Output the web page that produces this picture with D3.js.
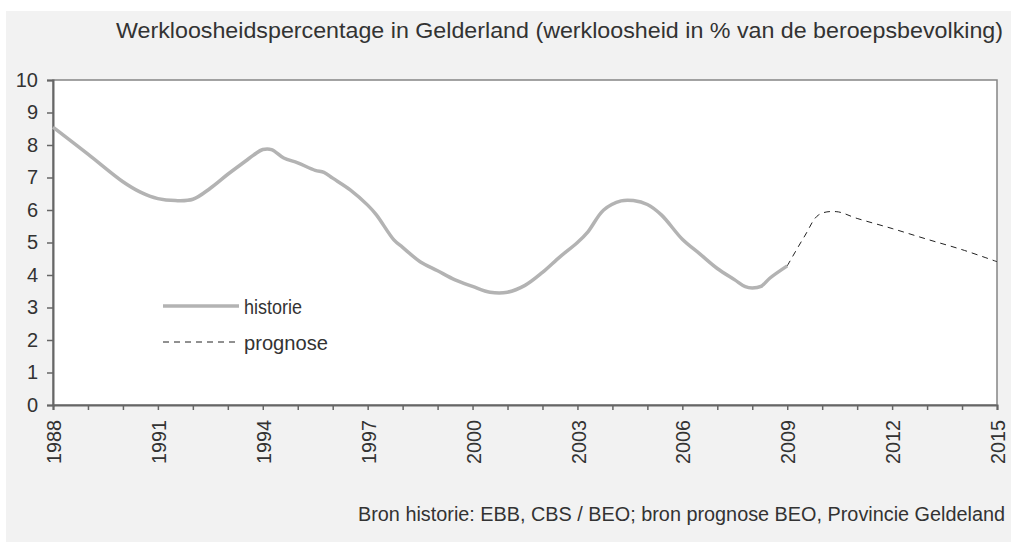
<!DOCTYPE html>
<html>
<head>
<meta charset="utf-8">
<script src="https://cdn.jsdelivr.net/npm/d3@7"></script>
<style>
  body { margin: 0; background: #fff; }
  text { font-family: "Liberation Sans", Arial, sans-serif; fill: #333; }
</style>
</head>
<body>
<div id="chart"></div>
<script>
// history: year, unemployment %
const histYears = [1988, 1989, 1990, 1990.5, 1991, 1991.5, 1992, 1992.5, 1993, 1993.5, 1993.75, 1994, 1994.25, 1994.6, 1995, 1995.5, 1995.75, 1996, 1996.5, 1997, 1997.25, 1997.75, 1998, 1998.5, 1999, 1999.5, 2000, 2000.5, 2001, 2001.5, 2002, 2002.5, 2003, 2003.3, 2003.75, 2004.25, 2004.6, 2005, 2005.4, 2006, 2006.5, 2007, 2007.5, 2007.8, 2008, 2008.25, 2008.5, 2009];
const histValues = [8.55, 7.72, 6.87, 6.55, 6.35, 6.29, 6.33, 6.67, 7.1, 7.5, 7.7, 7.86, 7.86, 7.6, 7.45, 7.22, 7.16, 6.98, 6.62, 6.15, 5.85, 5.08, 4.85, 4.41, 4.13, 3.85, 3.65, 3.47, 3.47, 3.68, 4.08, 4.56, 5.0, 5.33, 6.0, 6.28, 6.29, 6.17, 5.85, 5.1, 4.65, 4.2, 3.85, 3.64, 3.6, 3.65, 3.9, 4.28];
// prognose
const progYears = [2009, 2009.5, 2009.9, 2010.4, 2011, 2012, 2013, 2014, 2015];
const progValues = [4.28, 5.2, 5.85, 5.95, 5.74, 5.43, 5.1, 4.78, 4.41];
const yTicks = [0, 1, 2, 3, 4, 5, 6, 7, 8, 9, 10];
const yearTicks = d3.range(1988, 2016);
const labelYears = [1988, 1991, 1994, 1997, 2000, 2003, 2006, 2009, 2012, 2015];
const titleText = "Werkloosheidspercentage in Gelderland (werkloosheid in % van de beroepsbevolking)";
const sourceText = "Bron historie: EBB, CBS / BEO; bron prognose BEO, Provincie Geldeland";
const legendLabels = ["historie", "prognose"];

const width = 1011, height = 542;
const plot = { left: 53, top: 80, right: 997, bottom: 405 };
const fontFamily = "Liberation Sans, Arial, sans-serif";

const svg = d3.select("#chart").append("svg")
    .attr("width", width)
    .attr("height", height);

// outer chart area
svg.append("rect")
    .attr("x", 6).attr("y", 11)
    .attr("width", width - 6).attr("height", height - 11)
    .attr("fill", "#f2f2f2");

// plot area
svg.append("rect")
    .attr("x", plot.left).attr("y", plot.top)
    .attr("width", plot.right - plot.left).attr("height", plot.bottom - plot.top)
    .attr("fill", "#fff")
    .attr("stroke", "#858585")
    .attr("stroke-width", 1.5);

const x = d3.scaleLinear().domain([1988, 2015]).range([plot.left, plot.right]);
const y = d3.scaleLinear().domain([0, 10]).range([plot.bottom, plot.top]);

// y axis
const yAxis = svg.append("g")
    .attr("transform", `translate(${plot.left},0)`)
    .call(d3.axisLeft(y).tickValues(yTicks).tickSize(6).tickPadding(9).tickFormat(d3.format("d")));
yAxis.select(".domain").attr("stroke", "#666").attr("stroke-width", 2);
yAxis.selectAll(".tick line").attr("stroke", "#666").attr("stroke-width", 1.5);
yAxis.selectAll(".tick text").attr("font-size", 20).attr("fill", "#333")
    .attr("font-family", fontFamily);

// x axis
const xAxis = svg.append("g")
    .attr("transform", `translate(0,${plot.bottom})`)
    .call(d3.axisBottom(x).tickValues(yearTicks).tickSize(5)
        .tickFormat(d => labelYears.includes(d) ? d : ""));
xAxis.select(".domain").attr("stroke", "#666").attr("stroke-width", 2);
xAxis.selectAll(".tick line").attr("stroke", "#666").attr("stroke-width", 1.5);
xAxis.selectAll(".tick text")
    .attr("font-size", 21).attr("fill", "#333")
    .attr("font-family", fontFamily)
    .attr("text-anchor", "end")
    .attr("transform", "rotate(-90)")
    .attr("x", -15).attr("y", 0).attr("dy", "0.36em")
    .each(function (d) {
        if (labelYears.includes(d)) d3.select(this).attr("textLength", 44).attr("lengthAdjust", "spacingAndGlyphs");
    });

// lines
const line = d3.line().x(d => x(d[0])).y(d => y(d[1])).curve(d3.curveCatmullRom.alpha(0.5));

svg.append("path")
    .datum(histYears.map((yr, i) => [yr, histValues[i]]))
    .attr("d", line)
    .attr("fill", "none")
    .attr("stroke", "#b3b3b3")
    .attr("stroke-width", 3.5)
    .attr("stroke-linejoin", "round");

svg.append("path")
    .datum(progYears.map((yr, i) => [yr, progValues[i]]))
    .attr("d", line)
    .attr("fill", "none")
    .attr("stroke", "#222")
    .attr("stroke-width", 1)
    .attr("stroke-dasharray", "6,5");

// legend
const legend = svg.append("g");
legend.append("line")
    .attr("x1", 163).attr("x2", 239).attr("y1", 306).attr("y2", 306)
    .attr("stroke", "#b3b3b3").attr("stroke-width", 3.5);
legend.append("line")
    .attr("x1", 163).attr("x2", 236).attr("y1", 342).attr("y2", 342)
    .attr("stroke", "#222").attr("stroke-width", 1).attr("stroke-dasharray", "6,5");
legend.selectAll("text.lbl")
    .data(legendLabels)
    .enter().append("text")
    .attr("class", "lbl")
    .attr("x", 244)
    .attr("y", (d, i) => 307 + i * 36)
    .attr("dy", "0.35em")
    .attr("font-size", 20)
    .attr("textLength", (d, i) => i === 0 ? 58 : 84)
    .attr("lengthAdjust", "spacingAndGlyphs")
    .text(d => d);

// title and source
svg.append("text")
    .attr("x", 1003).attr("y", 38)
    .attr("text-anchor", "end")
    .attr("font-size", 22)
    .attr("textLength", 887)
    .attr("lengthAdjust", "spacingAndGlyphs")
    .text(titleText);

svg.append("text")
    .attr("x", 1005).attr("y", 521)
    .attr("text-anchor", "end")
    .attr("font-size", 20)
    .attr("textLength", 647)
    .attr("lengthAdjust", "spacingAndGlyphs")
    .text(sourceText);
</script>
</body>
</html>
